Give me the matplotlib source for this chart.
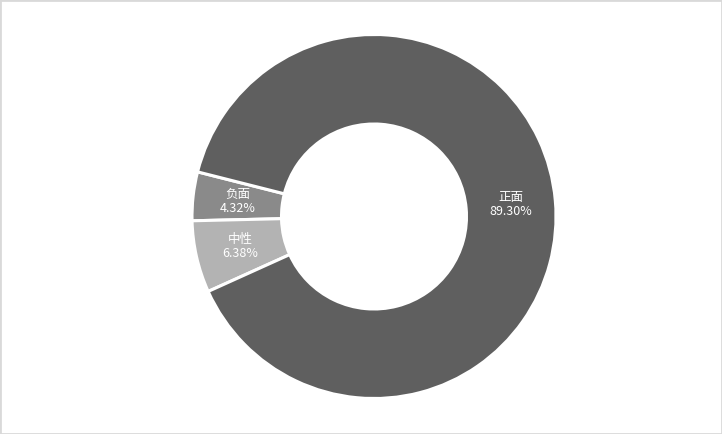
import matplotlib
matplotlib.use("Agg")
import matplotlib.pyplot as plt
from matplotlib.patches import Rectangle

plt.rcParams['font.family'] = ['Noto Sans CJK SC', 'DejaVu Sans']

labels = ["负面", "中性", "正面"]
values = [4.32, 6.38, 89.30]
colors = ["#8a8a8a", "#b3b3b3", "#5f5f5f"]

fig = plt.figure(figsize=(7.22, 4.34), dpi=100)
ax = fig.add_axes([0, 0, 1, 1])

wedges, texts = ax.pie(values, colors=colors, startangle=165.8, counterclock=True,
                       center=(374, 217.5), radius=182,
                       labels=[f"{l}\n{v:.2f}%" for l, v in zip(labels, values)],
                       labeldistance=137 / 182,
                       wedgeprops=dict(width=89.5, edgecolor='white', linewidth=2.2),
                       textprops=dict(color='white', fontsize=9, linespacing=1.1),
                       frame=True)
for t in texts:
    t.set_ha('center')
    t.set_va('center')
ax.set_xlim(0, 722)
ax.set_ylim(0, 434)
ax.set_aspect('equal')
ax.axis('off')

fig.patches.append(Rectangle((0, 0), 1, 1, transform=fig.transFigure, fill=False,
                             edgecolor='#d9d9d9', linewidth=2))

fig.savefig("out.png", dpi=100)
